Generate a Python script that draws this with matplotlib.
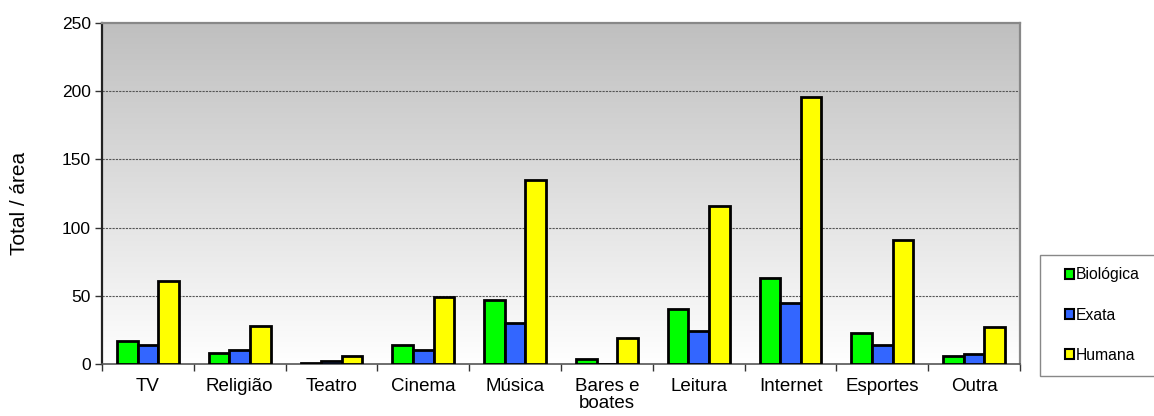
import matplotlib
matplotlib.use("Agg")
import matplotlib.pyplot as plt
import numpy as np
from matplotlib.patches import Patch, Rectangle

categories = ["TV", "Religião", "Teatro", "Cinema", "Música", "Bares e\nboates",
              "Leitura", "Internet", "Esportes", "Outra"]
biologica = [17, 8, 1, 14, 47, 4, 40, 63, 23, 6]
exata = [14, 10, 2, 10, 30, 0, 24, 45, 14, 7]
humana = [61, 28, 6, 49, 135, 19, 116, 196, 91, 27]
series_names = ["Biológica", "Exata", "Humana"]
colors = ["#00ff00", "#3366ff", "#ffff00"]
yticks = [0, 50, 100, 150, 200, 250]

plt.rcParams['font.family'] = ['Liberation Sans', 'DejaVu Sans']

W, H = 1154, 416
fig = plt.figure(figsize=(W / 100, H / 100), dpi=100)
ax = fig.add_axes([102 / W, 1 - 364 / H, 918 / W, 341 / H])

n = len(categories)
x = np.arange(n)
w = 0.225
ax.set_xlim(-0.5, n - 0.5)
ax.set_ylim(0, 250)

# gradient background (gray at top to white at bottom)
top = np.array([0.75, 0.75, 0.75])
bot = np.array([1.0, 1.0, 1.0])
t = np.linspace(0, 1, 256).reshape(-1, 1, 1)
img = top * (1 - t) + bot * t
ax.imshow(img, extent=(-0.5, n - 0.5, 0, 250), aspect='auto', zorder=0, origin='upper')

for yv in yticks[1:-1]:
    ax.axhline(yv, color='#555555', linestyle=(0, (2, 1)), linewidth=0.8, zorder=1)

for i, (vals, c) in enumerate(zip([biologica, exata, humana], colors)):
    ax.bar(x + (i - 1) * w, vals, width=w, color=c, edgecolor='black',
           linewidth=2.0, zorder=3, label=series_names[i])

ax.set_yticks(yticks)
ax.set_yticklabels([str(v) for v in yticks], fontsize=12.5)
ax.set_xticks(x)
ax.set_xticklabels(categories, fontsize=13.5, linespacing=1.0)
ax.set_xticks(np.arange(-0.5, n + 0.5, 1), minor=True)
ax.tick_params(axis='x', which='major', length=0, pad=10)
ax.tick_params(axis='x', which='minor', length=5, width=1, color='#333333', direction='out')
ax.tick_params(axis='y', length=5, width=1, color='#333333', direction='out', pad=3)

ax.spines['left'].set_color('#222222')
ax.spines['left'].set_linewidth(1.6)
ax.spines['bottom'].set_color('#555555')
ax.spines['bottom'].set_linewidth(1.2)
for s in ['top', 'right']:
    ax.spines[s].set_color('#888888')
    ax.spines[s].set_linewidth(1.6)

ax.set_ylabel("Total / área", fontsize=15)
ax.yaxis.set_label_coords((29 - 102) / 918, (364 - 203.5) / 341)

# legend frame (extends past right edge)
fig.patches.append(Rectangle((1040 / W, 1 - 376 / H), 130 / W, 121 / H,
                             transform=fig.transFigure, facecolor='white',
                             edgecolor='#888888', linewidth=1.0, zorder=0))
handles = [Patch(facecolor=c, edgecolor='black', linewidth=1.5) for c in colors]
leg = fig.legend(handles, series_names, loc='center left',
                 bbox_to_anchor=(1065 / W, 1 - 315 / H),
                 fontsize=11.3, frameon=False,
                 handlelength=0.55, handleheight=0.55, handletextpad=0.15,
                 labelspacing=1.6, borderpad=0.0, borderaxespad=0)

fig.savefig("out.png", dpi=100)
